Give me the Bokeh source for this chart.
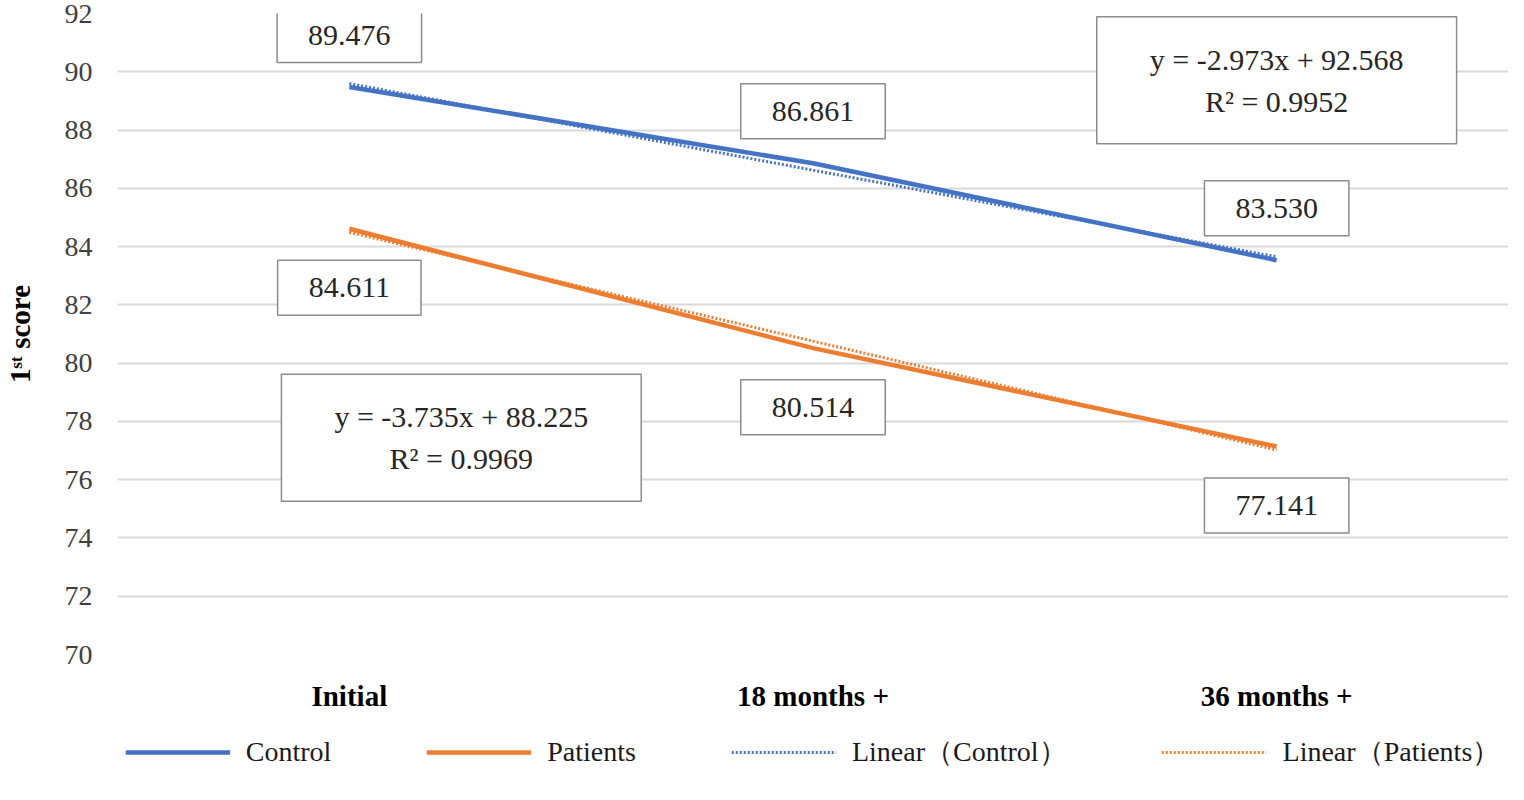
import numpy as np
from bokeh.plotting import figure
from bokeh.layouts import column
from bokeh.models import (Label, Legend, LegendItem,
                          FactorRange, Range1d, FixedTicker)
from bokeh.embed import file_html
from bokeh.resources import INLINE

categories = ["Initial", "18 months +", "36 months +"]
control = [89.476, 86.861, 83.530]
patients = [84.611, 80.514, 77.141]
y_ticks = [70, 72, 74, 76, 78, 80, 82, 84, 86, 88, 90, 92]
series_names = ["Control", "Patients", "Linear（Control）", "Linear（Patients）"]

BLUE = "#4472C4"
ORANGE = "#ED7D31"
SERIF = "Liberation Serif"

x_num = np.arange(1, len(categories) + 1)


def fit(vals):
    slope, intercept = np.polyfit(x_num, vals, 1)
    pred = slope * x_num + intercept
    r2 = 1 - np.sum((np.array(vals) - pred) ** 2) / np.sum((np.array(vals) - np.mean(vals)) ** 2)
    sign = "+" if intercept >= 0 else "-"
    eq = f"y = {slope:.3f}x {sign} {abs(intercept):.3f}\nR² = {r2:.4f}"
    return pred, eq


def cat_pos(cat):
    # synthetic coordinate of a factor's centre on a FactorRange
    return categories.index(cat) + 0.5


c_trend, c_eq = fit(control)
p_trend, p_eq = fit(patients)

p = figure(x_range=FactorRange(*categories), y_range=Range1d(70, 92),
           width=1508, height=720, output_backend="svg", toolbar_location=None,
           min_border_left=108, min_border_right=0, min_border_top=13,
           min_border_bottom=66)
p.outline_line_color = None

# grid & axes
p.xgrid.grid_line_color = None
p.ygrid.grid_line_color = "#d9d9d9"
p.ygrid.grid_line_width = 2
p.yaxis.ticker = FixedTicker(ticks=y_ticks)
for ax in (p.xaxis, p.yaxis):
    ax.axis_line_color = None
    ax.major_tick_line_color = None
    ax.minor_tick_line_color = None
p.yaxis.major_label_text_font = SERIF
p.yaxis.major_label_text_font_size = "28px"
p.yaxis.major_label_text_color = "#404040"
p.yaxis.major_label_standoff = 19
p.yaxis.axis_label = "1ˢᵗ score"
p.yaxis.axis_label_text_font = SERIF
p.yaxis.axis_label_text_font_size = "29px"
p.yaxis.axis_label_text_font_style = "bold"
p.yaxis.axis_label_text_color = "#000000"
p.yaxis.axis_label_standoff = 26
p.xaxis.major_label_text_font = SERIF
p.xaxis.major_label_text_font_size = "29px"
p.xaxis.major_label_text_font_style = "bold"
p.xaxis.major_label_text_color = "#000000"
p.xaxis.major_label_standoff = 19

# lines
r_c = p.line(categories, control, line_color=BLUE, line_width=4.5)
r_p = p.line(categories, patients, line_color=ORANGE, line_width=4.5)
r_ct = p.line(categories, list(c_trend), line_color=BLUE, line_width=3, line_dash="2 2")
r_pt = p.line(categories, list(p_trend), line_color=ORANGE, line_width=3, line_dash="2 2")

# data labels
box_style = dict(text_font=SERIF, text_font_size="30px", text_color="#262626",
                 text_align="center", text_baseline="middle",
                 border_line_color="#8c8c8c", border_line_width=1.5,
                 background_fill_color="white", padding=(31, 18))
for cat, v in zip(categories, control):
    p.add_layout(Label(x=cat_pos(cat), y=v, text=f"{v:.3f}", y_offset=52, **box_style))
for cat, v in zip(categories, patients):
    p.add_layout(Label(x=cat_pos(cat), y=v, text=f"{v:.3f}", y_offset=-59, **box_style))

# trendline equations
eq_style = dict(box_style)
eq_style.update(padding=(53, 26), text_line_height=1.27)
p.add_layout(Label(x=cat_pos(categories[2]), y=control[2], text=c_eq, y_offset=180, **eq_style))
p.add_layout(Label(x=cat_pos(categories[0]), y=patients[0], text=p_eq, x_offset=112, y_offset=-209, **eq_style))

# legend strip underneath the chart (key glyphs lie outside its visible range)
lg = figure(width=1508, height=64, output_backend="svg", toolbar_location=None,
            x_range=Range1d(0, 1), y_range=Range1d(0, 1),
            min_border_left=0, min_border_right=0, min_border_top=0, min_border_bottom=0)
lg.axis.visible = False
lg.grid.visible = False
lg.outline_line_color = None
off = [5, 6]
k_c = lg.line(off, off, line_color=BLUE, line_width=4.5)
k_p = lg.line(off, off, line_color=ORANGE, line_width=4.5)
k_ct = lg.line(off, off, line_color=BLUE, line_width=3, line_dash="2 2")
k_pt = lg.line(off, off, line_color=ORANGE, line_width=3, line_dash="2 2")
legend = Legend(items=[LegendItem(label=series_names[0], renderers=[k_c]),
                       LegendItem(label=series_names[1], renderers=[k_p]),
                       LegendItem(label=series_names[2], renderers=[k_ct]),
                       LegendItem(label=series_names[3], renderers=[k_pt])],
                orientation="horizontal", location="center",
                border_line_color=None, background_fill_alpha=0,
                label_text_font=SERIF, label_text_font_size="28px",
                label_text_color="#1a1a1a",
                glyph_width=105, glyph_height=22, label_standoff=16,
                spacing=95, padding=0, margin=0)
lg.add_layout(legend, "center")

layout = column(p, lg, spacing=0)
open("out.html", "w").write(file_html(layout, INLINE))
